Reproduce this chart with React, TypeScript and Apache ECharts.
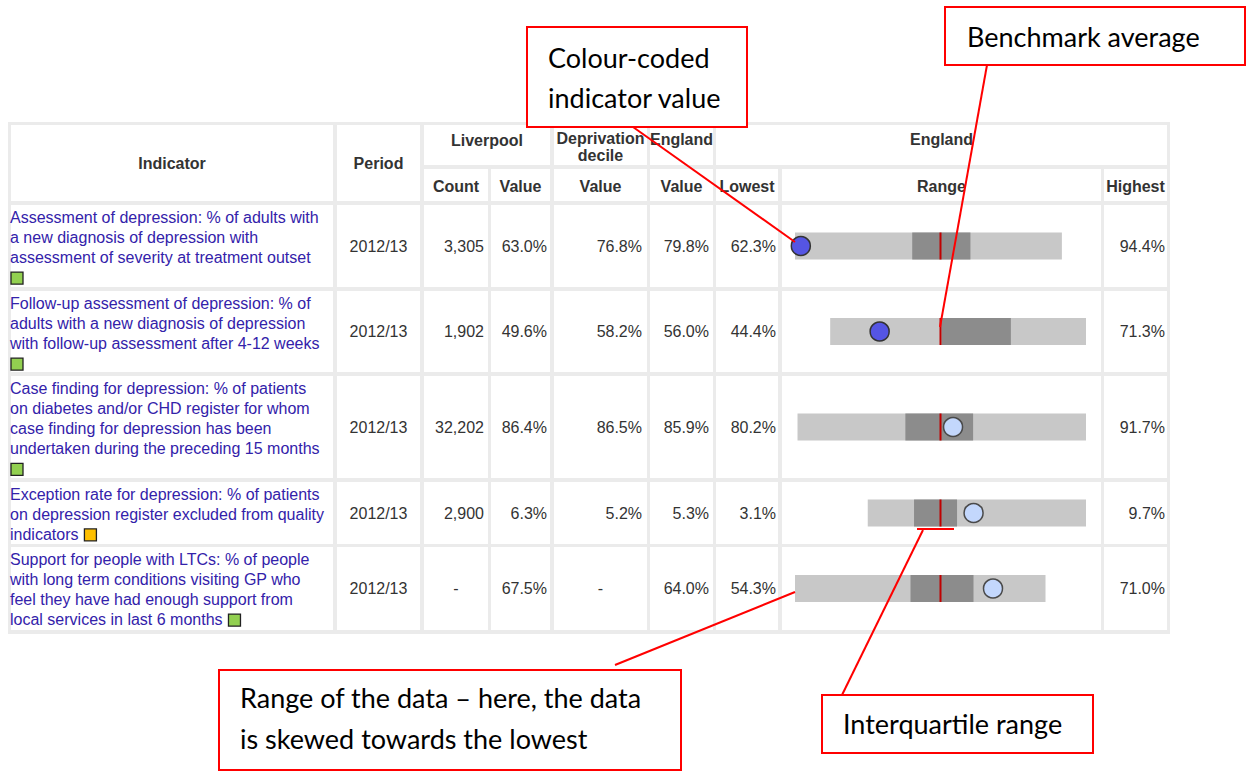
import React, { useEffect, useRef } from "react";
import * as echarts from "echarts";

// ---------- data ----------
const indicatorLines: string[][] = [
  ["Assessment of depression: % of adults with", "a new diagnosis of depression with", "assessment of severity at treatment outset", ""],
  ["Follow-up assessment of depression: % of", "adults with a new diagnosis of depression", "with follow-up assessment after 4-12 weeks", ""],
  ["Case finding for depression: % of patients", "on diabetes and/or CHD register for whom", "case finding for depression has been", "undertaken during the preceding 15 months", ""],
  ["Exception rate for depression: % of patients", "on depression register excluded from quality", "indicators"],
  ["Support for people with LTCs: % of people", "with long term conditions visiting GP who", "feel they have had enough support from", "local services in last 6 months"],
];
const periods = ["2012/13", "2012/13", "2012/13", "2012/13", "2012/13"];
const counts = ["3,305", "1,902", "32,202", "2,900", "-"];
const localValues = [63.0, 49.6, 86.4, 6.3, 67.5];
const decileValues: (number | null)[] = [76.8, 58.2, 86.5, 5.2, null];
const englandValues = [79.8, 56.0, 85.9, 5.3, 64.0];
const lowestValues = [62.3, 44.4, 80.2, 3.1, 54.3];
const highestValues = [94.4, 71.3, 91.7, 9.7, 71.0];
const q1Values = [76.4, 56.1, 84.5, 4.5, 62.0];
const q3Values = [83.4, 63.4, 87.2, 5.8, 66.2];
const ragStatus = ["green", "green", "green", "amber", "green"];
const comparison = ["lower", "lower", "similar", "similar", "similar"];

const headerTop = ["Indicator", "Period", "Liverpool", "Deprivation decile", "England", "England"];
const headerSub = ["Count", "Value", "Value", "Value", "Lowest", "Range", "Highest"];

const callouts = [
  "Colour-coded|indicator value",
  "Benchmark average",
  "Range of the data – here, the data|is skewed towards the lowest",
  "Interquartile range",
];

// ---------- styling / layout ----------
const TABLE_FONT = '"Liberation Sans", Arial, sans-serif';
const NOTE_FONT = 'Lato, "Open Sans", sans-serif';
const BORDER = "#ebebeb";
const TXT = "#333333";
const LINK = "#3322aa";
const RED = "#ff0000";
const ragColour: Record<string, string> = { green: "#92d050", amber: "#ffc000" };
const dotColour: Record<string, [string, string]> = {
  lower: ["#5555e3", "#333333"],
  similar: ["#c3d7fc", "#4a4a4a"],
};

// column cells (x0, x1)
const C = {
  ind: [11, 333], per: [337, 420], cnt: [424, 488], val: [491, 550], dep: [554, 647],
  eng: [650, 713], low: [716, 778], rng: [782, 1101], high: [1104, 1167],
};
const H1 = [125, 165];
const H2 = [169, 201];
const ROWS = [[205, 287], [291, 372], [376, 478], [482, 544], [547, 630]];
const SPINE_LEFT = 795;
const SPINE_WIDTH = 291;

function fmt(v: number | null) {
  return v == null ? "-" : v.toFixed(1) + "%";
}

export default function App() {
  const ref = useRef<HTMLDivElement>(null);
  useEffect(() => {
    document.body.style.margin = "0";
    const chart = echarts.init(ref.current!, null, { renderer: "svg" });

    const canvas = document.createElement("canvas");
    const ctx = canvas.getContext("2d")!;
    ctx.font = `16px ${TABLE_FONT}`;

    const g: any[] = [];
    const rect = (x0: number, y0: number, x1: number, y1: number, fill: string, z = 0) =>
      g.push({ type: "rect", z, shape: { x: x0, y: y0, width: x1 - x0, height: y1 - y0 }, style: { fill } });
    const text = (t: string, x: number, y: number, align: string, opts: any = {}) =>
      g.push({
        type: "text", z: opts.z ?? 1, x, y,
        style: {
          text: t, fill: opts.fill ?? TXT, fontSize: opts.size ?? 16, fontFamily: opts.family ?? TABLE_FONT,
          fontWeight: opts.bold ? "bold" : "normal",
          textAlign: align, textVerticalAlign: "middle", align, verticalAlign: "middle",
        },
      });

    // table frame
    rect(8, 122, 1170, 634, BORDER);
    // header cells
    rect(C.ind[0], H1[0], C.ind[1], H2[1], "#fff");
    rect(C.per[0], H1[0], C.per[1], H2[1], "#fff");
    rect(C.cnt[0], H1[0], C.val[1], H1[1], "#fff");
    rect(C.dep[0], H1[0], C.dep[1], H1[1], "#fff");
    rect(C.eng[0], H1[0], C.eng[1], H1[1], "#fff");
    rect(C.low[0], H1[0], C.high[1], H1[1], "#fff");
    const subCols = [C.cnt, C.val, C.dep, C.eng, C.low, C.rng, C.high];
    subCols.forEach((c) => rect(c[0], H2[0], c[1], H2[1], "#fff"));
    // body cells
    const allCols = [C.ind, C.per, C.cnt, C.val, C.dep, C.eng, C.low, C.rng, C.high];
    ROWS.forEach((r) => allCols.forEach((c) => rect(c[0], r[0], c[1], r[1], "#fff")));

    // header text
    const mid = (c: number[]) => (c[0] + c[1]) / 2;
    text(headerTop[0], mid(C.ind), 163, "center", { bold: true });
    text(headerTop[1], mid(C.per), 163, "center", { bold: true });
    text(headerTop[2], (C.cnt[0] + C.val[1]) / 2, 140, "center", { bold: true });
    const dd = headerTop[3].split(" ");
    text(dd[0], mid(C.dep), 138, "center", { bold: true });
    text(dd[1], mid(C.dep), 155, "center", { bold: true });
    text(headerTop[4], mid(C.eng), 139, "center", { bold: true });
    text(headerTop[5], (C.low[0] + C.high[1]) / 2, 139, "center", { bold: true });
    headerSub.forEach((h, i) => text(h, mid(subCols[i]), 186, "center", { bold: true }));

    // body text
    ROWS.forEach((r, i) => {
      const cy = (r[0] + r[1]) / 2;
      const lines = indicatorLines[i];
      const y0 = r[0] + 12;
      lines.forEach((ln, k) => {
        if (ln) text(ln, 10, y0 + k * 20.2, "left", { fill: LINK });
      });
      const last = lines[lines.length - 1];
      const ly = y0 + (lines.length - 1) * 20.2;
      const sx = last ? 10 + ctx.measureText(last + " ").width + 1 : 10.5;
      g.push({
        type: "rect", z: 2,
        shape: { x: sx + 0.5, y: ly - 5.5, width: 12, height: 12 },
        style: { fill: ragColour[ragStatus[i]], stroke: "#222", lineWidth: 1.3 },
      });
      text(periods[i], mid(C.per), cy, "center");
      if (counts[i] === "-") text("-", mid(C.cnt), cy, "center");
      else text(counts[i], C.cnt[1] - 4, cy, "right");
      text(fmt(localValues[i]), C.val[1] - 3, cy, "right");
      if (decileValues[i] == null) text("-", mid(C.dep), cy, "center");
      else text(fmt(decileValues[i]), C.dep[1] - 5, cy, "right");
      text(fmt(englandValues[i]), C.eng[1] - 4, cy, "right");
      text(fmt(lowestValues[i]), C.low[1] - 2, cy, "right");
      text(fmt(highestValues[i]), C.high[1] - 2, cy, "right");
    });

    // annotations
    const box = (x: number, y: number, w: number, h: number) =>
      g.push({ type: "rect", z: 60, shape: { x, y, width: w, height: h }, style: { fill: "#fff", stroke: RED, lineWidth: 2 } });
    const line = (x1: number, y1: number, x2: number, y2: number) =>
      g.push({ type: "line", z: 60, shape: { x1, y1, x2, y2 }, style: { stroke: RED, lineWidth: 2 } });
    const note = (t: string, x: number, y: number) =>
      text(t, x, y, "left", { family: NOTE_FONT, size: 27, fill: "#000", z: 61 });

    line(633, 127, 795, 242);
    line(987, 65, 940, 327);
    line(615, 665, 795, 592);
    line(842, 695, 923, 530);
    line(917, 529, 954, 529);

    box(527, 27, 220, 100);
    const c0 = callouts[0].split("|");
    note(c0[0], 548, 57);
    note(c0[1], 548, 97);
    box(945, 7, 300, 58);
    note(callouts[1], 967, 36);
    box(219, 670, 462, 100);
    const c2 = callouts[2].split("|");
    note(c2[0], 240, 697);
    note(c2[1], 240, 738);
    box(822, 695, 271, 58);
    note(callouts[3], 843, 723);

    // spine chart: one grid per indicator row
    const grids: any[] = [];
    const xAxes: any[] = [];
    const yAxes: any[] = [];
    const series: any[] = [];
    ROWS.forEach((r, i) => {
      const cy = (r[0] + r[1]) / 2;
      const eng = englandValues[i];
      const dev = Math.max(eng - lowestValues[i], highestValues[i] - eng);
      grids.push({ left: SPINE_LEFT, width: SPINE_WIDTH, top: cy - 20, height: 40 });
      xAxes.push({ type: "value", gridIndex: i, min: eng - dev, max: eng + dev, show: false });
      yAxes.push({ type: "category", gridIndex: i, data: ["row"], show: false });
      series.push({
        type: "custom",
        xAxisIndex: i,
        yAxisIndex: i,
        z: 5,
        clip: false,
        encode: { x: [0, 1, 2, 3, 4], y: 5 },
        data: [[lowestValues[i], q1Values[i], q3Values[i], highestValues[i], eng, 0]],
        renderItem: (_p: any, api: any) => {
          const lo = api.coord([api.value(0), 0]);
          const a = api.coord([api.value(1), 0]);
          const b = api.coord([api.value(2), 0]);
          const hi = api.coord([api.value(3), 0]);
          const av = api.coord([api.value(4), 0]);
          const h = 27;
          const y = lo[1] - h / 2;
          return {
            type: "group",
            children: [
              { type: "rect", shape: { x: lo[0], y, width: hi[0] - lo[0], height: h }, style: { fill: "#c8c8c8" } },
              { type: "rect", shape: { x: a[0], y, width: b[0] - a[0], height: h }, style: { fill: "#8c8c8c" } },
              { type: "line", shape: { x1: av[0], y1: y, x2: av[0], y2: y + h }, style: { stroke: "#c00000", lineWidth: 2 } },
            ],
          };
        },
      });
      const [fill, stroke] = dotColour[comparison[i]];
      series.push({
        type: "scatter",
        xAxisIndex: i,
        yAxisIndex: i,
        z: 6,
        symbol: "circle",
        symbolSize: 19,
        itemStyle: { color: fill, borderColor: stroke, borderWidth: 1.5, opacity: 1 },
        data: [[localValues[i], 0]],
      });
    });

    chart.setOption({
      animation: false,
      backgroundColor: "#ffffff",
      grid: grids,
      xAxis: xAxes,
      yAxis: yAxes,
      series,
      graphic: { elements: g },
    });
    return () => chart.dispose();
  }, []);
  return <div ref={ref} style={{ width: 1247, height: 772 }} />;
}
